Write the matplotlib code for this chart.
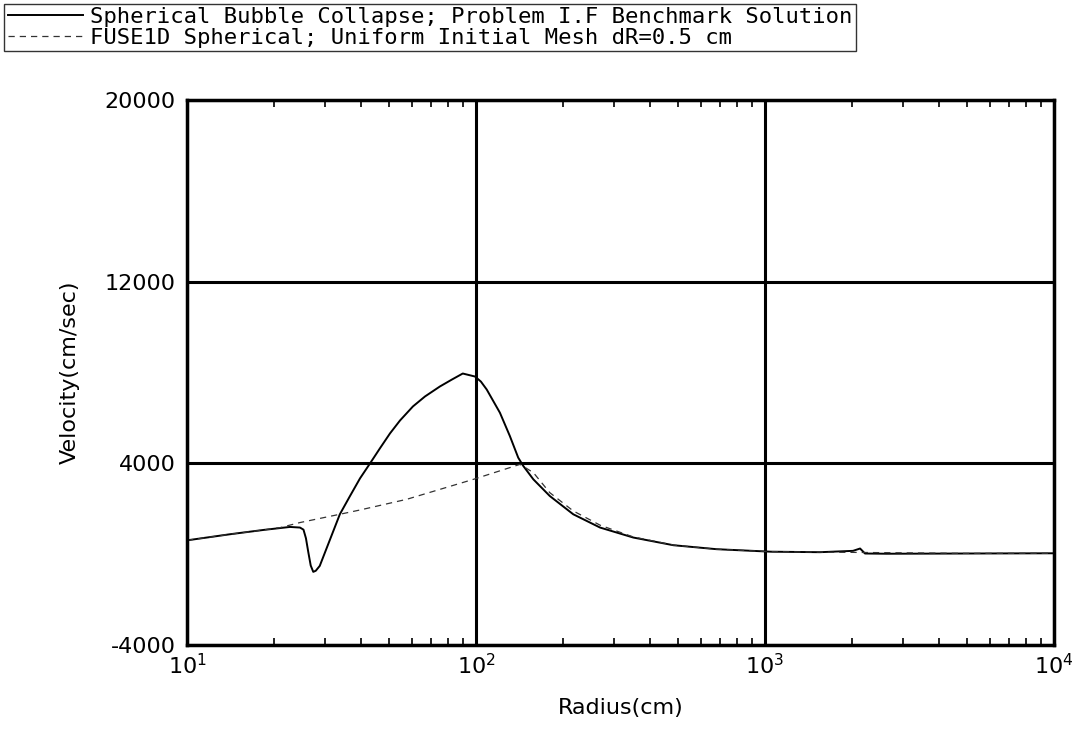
import numpy as np
import matplotlib.pyplot as plt
from matplotlib.ticker import FixedLocator, LogLocator, NullFormatter

plt.rcParams['axes.unicode_minus'] = False

# benchmark solution (solid)
r_bench = [10, 14.1, 18.4, 22.7, 24.6, 25.3, 25.8, 26.3, 26.8, 27.35, 27.9, 28.8, 30.5,
           33.8, 36.6, 39.7, 43, 46.5, 50.4, 54.6, 60.5, 66.6, 75, 82.6, 90, 99.2, 104,
           108.9, 121, 131, 140, 145.8, 157.9, 180, 217, 268.7, 350, 482, 680, 1047,
           1549, 2016, 2133, 2218, 2636, 5000, 10000]
v_bench = [610, 879, 1068, 1200, 1173, 1080, 700, 75, -500, -778, -730, -515, 300,
           1758, 2549, 3341, 4000, 4659, 5319, 5890, 6506, 6945, 7385, 7693, 7956, 7824, 7600,
           7253, 6229, 5200, 4250, 3883, 3297, 2563, 1758, 1173, 734, 395, 220, 110,
           88, 147, 250, 30, 20, 30, 40]

# FUSE1D result (dashed)
r_fuse = [10, 14.1, 18.4, 21, 24.6, 33.8, 39.7, 57.6, 98, 142, 158, 180, 217, 269, 350,
          482, 680, 1047, 2000, 5000, 10000]
v_fuse = [610, 879, 1068, 1170, 1393, 1758, 1947, 2417, 3297, 3956, 3590, 2710, 1905, 1275, 760,
          400, 220, 110, 80, 35, 40]

yticks = [-4000, 4000, 12000, 20000]

fig = plt.figure(figsize=(10.74, 7.30), dpi=100)
ax = fig.add_axes([0.1741, 0.1164, 0.8073, 0.7466])

ax.plot(r_bench, v_bench, color='black', lw=1.4,
        label='Spherical Bubble Collapse; Problem I.F Benchmark Solution')
ax.plot(r_fuse, v_fuse, color='#333333', lw=0.9, ls=(0, (5, 4)),
        label='FUSE1D Spherical; Uniform Initial Mesh dR=0.5 cm')

ax.set_xscale('log')
ax.set_xlim(10, 10000)
ax.set_ylim(-4000, 20000)
ax.yaxis.set_major_locator(FixedLocator(yticks))
ax.set_yticklabels([str(t) for t in yticks])
ax.xaxis.set_major_locator(LogLocator(base=10))
ax.xaxis.set_minor_locator(LogLocator(base=10, subs=np.arange(2, 10)))
ax.xaxis.set_minor_formatter(NullFormatter())

ax.grid(True, which='major', color='black', lw=2.2)
ax.tick_params(which='both', direction='in', top=True, right=True, labelsize=16)
ax.tick_params(which='major', length=0)
ax.tick_params(which='minor', length=5, width=1.2)
ax.tick_params(axis='y', pad=8)
ax.tick_params(axis='x', pad=6)
for s in ax.spines.values():
    s.set_linewidth(2.5)

ax.set_xlabel('Radius(cm)', fontsize=16, labelpad=14)
ax.set_ylabel('Velocity(cm/sec)', fontsize=16, labelpad=18)

leg = fig.legend(loc='upper left', bbox_to_anchor=(0.004, 0.995),
                 prop={'family': 'DejaVu Sans Mono', 'size': 16},
                 frameon=True, fancybox=False, edgecolor='black', handlelength=3.4,
                 borderpad=0.15, labelspacing=0.05, handletextpad=0.3, borderaxespad=0)
leg.get_frame().set_linewidth(1)

fig.savefig('out.png', dpi=100)
